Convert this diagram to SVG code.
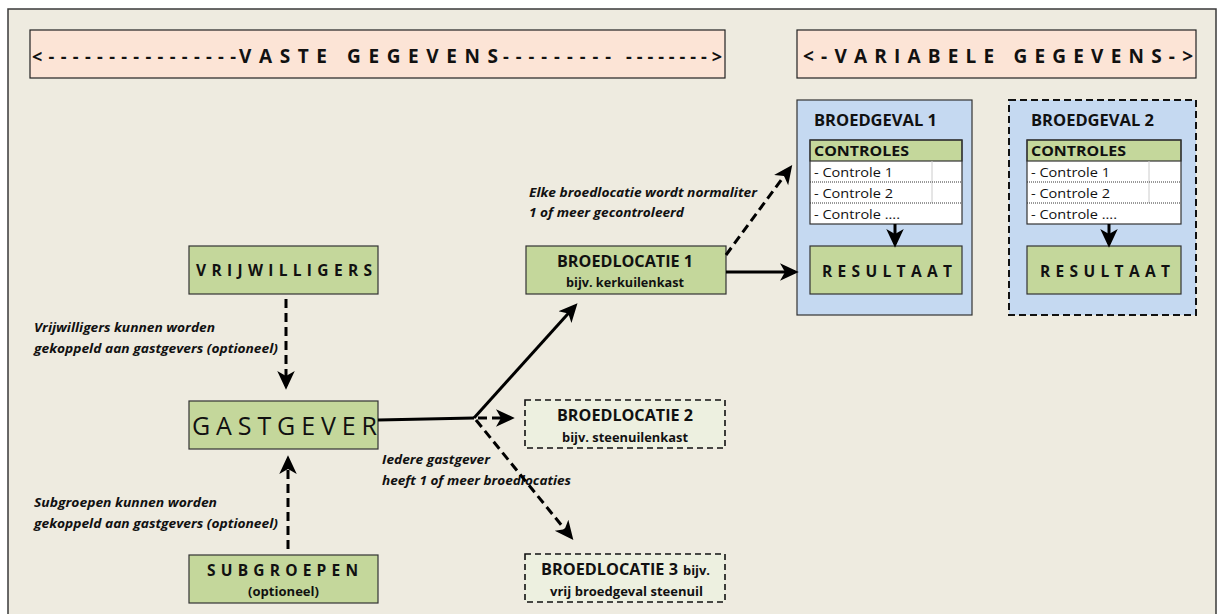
<svg xmlns="http://www.w3.org/2000/svg" width="1221" height="614" viewBox="0 0 1221 614">
<defs>
<style>
text{font-family:"Open Sans","Liberation Sans",Arial,sans-serif;fill:#111}
.b{font-weight:bold}
.it{font-weight:bold;font-style:italic;font-size:12.5px}
.hdr{fill:#FCE4D6;stroke:#222;stroke-width:1.2}
.grn{fill:#C4D79B;stroke:#333;stroke-width:1.2}
.blue{fill:#C5D9F1;stroke:#333;stroke-width:1.2}
.blued{fill:#C5D9F1;stroke:#111;stroke-width:2;stroke-dasharray:7 4}
.lite{fill:#EDF0E0;stroke:#111;stroke-width:1.6;stroke-dasharray:6 4}
.ln{fill:none;stroke:#000;stroke-width:3}
.dl{fill:none;stroke:#000;stroke-width:3;stroke-dasharray:9 5}
.row{stroke:#333;stroke-width:1;stroke-dasharray:1 1}
</style>
<marker id="ah" markerUnits="userSpaceOnUse" markerWidth="20" markerHeight="20" refX="12" refY="8" orient="auto" viewBox="0 0 16 16">
<path d="M0,1 L15,8 L0,15 L4,8 Z" fill="#000"/>
</marker>
</defs>
<rect x="0" y="0" width="1221" height="614" fill="#fff"/>
<rect x="8" y="9" width="1208" height="620" fill="#EEEBE0" stroke="#3a3a3a" stroke-width="1.5"/>

<g id="hdr-vaste">
<rect class="hdr" x="30" y="30" width="695" height="48"/>
<text class="b" x="32" y="63" font-size="18" textLength="204" lengthAdjust="spacing">&lt;----------------</text>
<text class="b" x="239" y="63" font-size="19" textLength="259" lengthAdjust="spacing">VASTE  GEGEVENS</text>
<text class="b" x="503" y="63" font-size="18" textLength="108" lengthAdjust="spacing">---------</text>
<text class="b" x="626" y="63" font-size="18" textLength="96" lengthAdjust="spacing">--------&gt;</text>
</g>
<g id="hdr-variabele">
<rect class="hdr" x="797" y="30" width="399" height="48"/>
<text class="b" x="803" y="63" font-size="19" textLength="390" lengthAdjust="spacing">&lt;-VARIABELE  GEGEVENS-&gt;</text>
</g>

<g id="broedgeval1">
<rect class="blue" x="797" y="100" width="175" height="215"/>
<text class="b" x="814" y="126" font-size="16" textLength="123" lengthAdjust="spacingAndGlyphs">BROEDGEVAL 1</text>
<rect fill="#fff" x="810" y="140" width="152" height="84"/>
<rect class="grn" x="810" y="140" width="152" height="21"/>
<line x1="932" y1="161" x2="932" y2="203" stroke="#ccc" stroke-width="1"/>
<line class="row" x1="810" y1="182" x2="962" y2="182"/>
<line class="row" x1="810" y1="203" x2="962" y2="203"/>
<rect x="810" y="140" width="152" height="84" fill="none" stroke="#333" stroke-width="1.2"/>
<text class="b" x="814" y="156" font-size="15" textLength="95" lengthAdjust="spacingAndGlyphs">CONTROLES</text>
<text x="814" y="177" font-size="13.5" textLength="79" lengthAdjust="spacingAndGlyphs">- Controle 1</text>
<text x="814" y="198" font-size="13.5" textLength="79" lengthAdjust="spacingAndGlyphs">- Controle 2</text>
<text x="814" y="219" font-size="13.5" textLength="86" lengthAdjust="spacingAndGlyphs">- Controle ....</text>
<rect class="grn" x="810" y="246" width="152" height="48"/>
<text class="b" x="822" y="277" font-size="15.5" textLength="130" lengthAdjust="spacing">RESULTAAT</text>
</g>

<g id="broedgeval2">
<rect class="blued" x="1009" y="100" width="187" height="215"/>
<text class="b" x="1031" y="126" font-size="16" textLength="123" lengthAdjust="spacingAndGlyphs">BROEDGEVAL 2</text>
<rect fill="#fff" x="1027" y="140" width="154" height="84"/>
<rect class="grn" x="1027" y="140" width="154" height="21"/>
<line x1="1149" y1="161" x2="1149" y2="203" stroke="#ccc" stroke-width="1"/>
<line class="row" x1="1027" y1="182" x2="1181" y2="182"/>
<line class="row" x1="1027" y1="203" x2="1181" y2="203"/>
<rect x="1027" y="140" width="154" height="84" fill="none" stroke="#333" stroke-width="1.2"/>
<text class="b" x="1031" y="156" font-size="15" textLength="95" lengthAdjust="spacingAndGlyphs">CONTROLES</text>
<text x="1031" y="177" font-size="13.5" textLength="79" lengthAdjust="spacingAndGlyphs">- Controle 1</text>
<text x="1031" y="198" font-size="13.5" textLength="79" lengthAdjust="spacingAndGlyphs">- Controle 2</text>
<text x="1031" y="219" font-size="13.5" textLength="86" lengthAdjust="spacingAndGlyphs">- Controle ....</text>
<rect class="grn" x="1027" y="246" width="154" height="48"/>
<text class="b" x="1040" y="277" font-size="15.5" textLength="130" lengthAdjust="spacing">RESULTAAT</text>
</g>

<g id="vrijwilligers">
<rect class="grn" x="189" y="246" width="189" height="48"/>
<text class="b" x="196" y="276" font-size="15.5" textLength="176" lengthAdjust="spacing">VRIJWILLIGERS</text>
</g>
<g id="gastgever">
<rect class="grn" x="189" y="401" width="189" height="48"/>
<text x="192" y="435" font-size="25" textLength="185" lengthAdjust="spacing">GASTGEVER</text>
</g>
<g id="subgroepen">
<rect class="grn" x="189" y="555" width="189" height="48"/>
<text class="b" x="207" y="576" font-size="15.5" textLength="151" lengthAdjust="spacing">SUBGROEPEN</text>
<text class="b" x="248" y="596" font-size="13" textLength="71" lengthAdjust="spacingAndGlyphs">(optioneel)</text>
</g>
<g id="broedlocatie1">
<rect class="grn" x="526" y="246" width="200" height="48"/>
<text class="b" x="557" y="267" font-size="16" textLength="136" lengthAdjust="spacingAndGlyphs">BROEDLOCATIE 1</text>
<text class="b" x="566" y="287" font-size="13" textLength="118" lengthAdjust="spacingAndGlyphs">bijv. kerkuilenkast</text>
</g>
<g id="broedlocatie2">
<rect class="lite" x="525" y="400" width="200" height="48"/>
<text class="b" x="557" y="421" font-size="16" textLength="136" lengthAdjust="spacingAndGlyphs">BROEDLOCATIE 2</text>
<text class="b" x="562" y="442" font-size="13" textLength="126" lengthAdjust="spacingAndGlyphs">bijv. steenuilenkast</text>
</g>
<g id="broedlocatie3">
<rect class="lite" x="525" y="554" width="200" height="48"/>
<text class="b" x="541" y="575" font-size="16" textLength="137" lengthAdjust="spacingAndGlyphs">BROEDLOCATIE 3</text>
<text class="b" x="683" y="575" font-size="13" textLength="27" lengthAdjust="spacingAndGlyphs">bijv.</text>
<text class="b" x="550" y="596" font-size="13" textLength="153" lengthAdjust="spacingAndGlyphs">vrij broedgeval steenuil</text>
</g>

<g id="labels">
<text class="it" x="34" y="332" textLength="181" lengthAdjust="spacingAndGlyphs">Vrijwilligers kunnen worden</text>
<text class="it" x="34" y="353" textLength="244" lengthAdjust="spacingAndGlyphs">gekoppeld aan gastgevers (optioneel)</text>
<text class="it" x="34" y="507" textLength="183" lengthAdjust="spacingAndGlyphs">Subgroepen kunnen worden</text>
<text class="it" x="34" y="528" textLength="244" lengthAdjust="spacingAndGlyphs">gekoppeld aan gastgevers (optioneel)</text>
<text class="it" x="382" y="464" textLength="108" lengthAdjust="spacingAndGlyphs">Iedere gastgever</text>
<text class="it" x="382" y="485" textLength="189" lengthAdjust="spacingAndGlyphs">heeft 1 of meer broedlocaties</text>
<text class="it" x="529" y="197" textLength="228" lengthAdjust="spacingAndGlyphs">Elke broedlocatie wordt normaliter</text>
<text class="it" x="529" y="217" textLength="155" lengthAdjust="spacingAndGlyphs">1 of meer gecontroleerd</text>
</g>

<g id="connectors">
<line class="dl" x1="286" y1="299" x2="286" y2="386" marker-end="url(#ah)"/>
<line class="dl" x1="288" y1="549" x2="288" y2="459" marker-end="url(#ah)"/>
<polyline class="ln" points="378,420 474,418"/>
<line class="ln" x1="474" y1="418" x2="575" y2="306" marker-end="url(#ah)"/>
<line class="dl" x1="478" y1="418" x2="511" y2="418" marker-end="url(#ah)"/>
<line class="dl" x1="476" y1="420" x2="571" y2="537" marker-end="url(#ah)"/>
<line class="dl" x1="726" y1="255" x2="790" y2="168" marker-end="url(#ah)"/>
<line class="ln" x1="726" y1="272" x2="795" y2="272" marker-end="url(#ah)"/>
<line class="ln" x1="895" y1="224" x2="895" y2="244" marker-end="url(#ah)"/>
<line class="ln" x1="1109" y1="224" x2="1109" y2="244" marker-end="url(#ah)"/>
</g>
</svg>
